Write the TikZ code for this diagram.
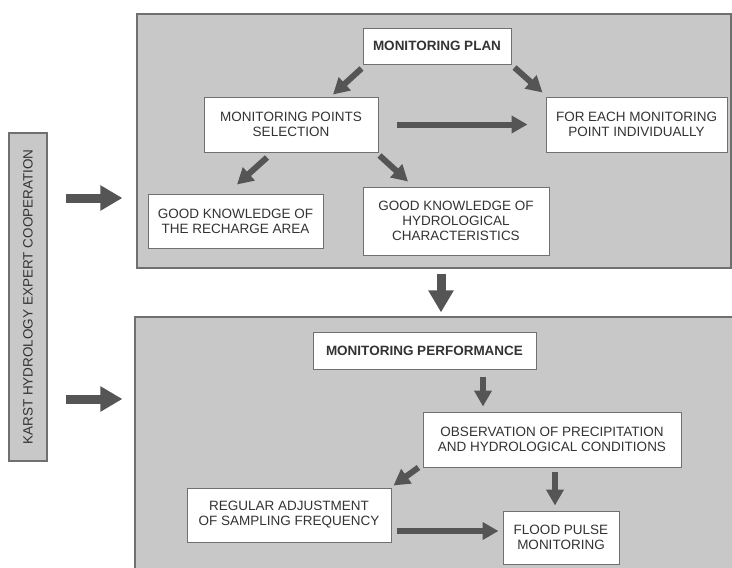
\documentclass[tikz,border=0pt]{standalone}
\usepackage{fontspec}
\setmainfont{Liberation Sans}
\usetikzlibrary{arrows.meta}

\definecolor{panelgray}{HTML}{C8C8C8}
\definecolor{arrowgray}{HTML}{555555}
\definecolor{edgegray}{HTML}{707070}

\begin{document}
\begin{tikzpicture}[
    x=1pt, y=-1pt,
    every node/.style={font=\fontsize{13.5}{15}\selectfont, text=black!80},
    panel/.style={draw=edgegray, line width=1.2pt, fill=panelgray, inner sep=0pt},
    box/.style={draw=edgegray, line width=1pt, fill=white, align=center, inner sep=0pt},
    arr/.style={-{Triangle[width=17pt,length=16pt]}, line width=6pt, arrowgray},
    bigarr/.style={-{Triangle[width=24pt,length=22pt]}, line width=9pt, arrowgray}
  ]
    \useasboundingbox (0,0) rectangle (732,568);

    \node[panel, minimum width=594pt, minimum height=254pt] (planbg) at (434,141) {};
    \node[panel, minimum width=598pt, minimum height=263pt] (perfbg) at (434,448.5) {};
    \node[panel, rotate=90, minimum width=328pt, minimum height=38pt] (karst) at (28,297) {KARST HYDROLOGY EXPERT COOPERATION};

    \node[box, minimum width=148pt, minimum height=36pt, font=\fontsize{13.5}{15}\selectfont\bfseries] (plan) at (437,46) {MONITORING PLAN};
    \node[box, minimum width=174pt, minimum height=55pt] (select) at (291,124.5) {MONITORING POINTS\\SELECTION};
    \node[box, minimum width=181pt, minimum height=55pt] (each) at (636.5,124.5) {FOR EACH MONITORING\\POINT INDIVIDUALLY};
    \node[box, minimum width=175pt, minimum height=54pt] (recharge) at (235.5,221) {GOOD KNOWLEDGE OF\\THE RECHARGE AREA};
    \node[box, minimum width=186pt, minimum height=68pt] (hydro) at (456,221) {GOOD KNOWLEDGE OF\\HYDROLOGICAL\\CHARACTERISTICS};

    \node[box, minimum width=223pt, minimum height=37pt, font=\fontsize{13.5}{15}\selectfont\bfseries] (perf) at (424.5,350.5) {MONITORING PERFORMANCE};
    \node[box, minimum width=258pt, minimum height=55pt] (obs) at (552,439.5) {OBSERVATION OF PRECIPITATION\\AND HYDROLOGICAL CONDITIONS};
    \node[box, minimum width=204pt, minimum height=54pt] (adjust) at (289,515) {REGULAR ADJUSTMENT\\OF SAMPLING FREQUENCY};
    \node[box, minimum width=116pt, minimum height=53pt] (flood) at (561,537.5) {FLOOD PULSE\\MONITORING};

    % expert input
    \draw[bigarr] ([xshift=18pt,yshift=99pt]karst.south) -- ([xshift=-14pt,yshift=-57pt]planbg.west);
    \draw[bigarr] ([xshift=18pt,yshift=-102pt]karst.south) -- ([xshift=-12pt,yshift=49.5pt]perfbg.west);
    \draw[bigarr] ([xshift=7pt,yshift=-5pt]planbg.south) -- ([xshift=7pt,yshift=4pt]perfbg.north);

    % plan
    \draw[arr] ([xshift=-1pt,yshift=-4pt]plan.south west) -- ([xshift=42pt,yshift=2pt]select.north);
    \draw[arr] ([xshift=3pt,yshift=-3pt]plan.south east) -- ([xshift=-3pt,yshift=4pt]each.north west);
    \draw[arr] ([xshift=18pt]select.east) -- ([xshift=-18pt]each.west);
    \draw[arr] ([xshift=-24pt,yshift=-5pt]select.south) -- ([xshift=1.5pt,yshift=9pt]recharge.north);
    \draw[arr] ([xshift=1pt,yshift=-3pt]select.south east) -- ([xshift=-48pt,yshift=5pt]hydro.north);

    % performance
    \draw[arr] ([xshift=58.5pt,yshift=-7pt]perf.south) -- ([xshift=-69pt,yshift=5pt]obs.north);
    \draw[arr] ([xshift=-4pt]obs.south west) -- ([xshift=2pt,yshift=2pt]adjust.north east);
    \draw[arr] ([xshift=3pt,yshift=-4pt]obs.south) -- ([xshift=-6pt,yshift=5pt]flood.north);
    \draw[arr] ([xshift=5pt,yshift=-16pt]adjust.east) -- ([xshift=-4pt,yshift=6.5pt]flood.west);
\end{tikzpicture}
\end{document}
